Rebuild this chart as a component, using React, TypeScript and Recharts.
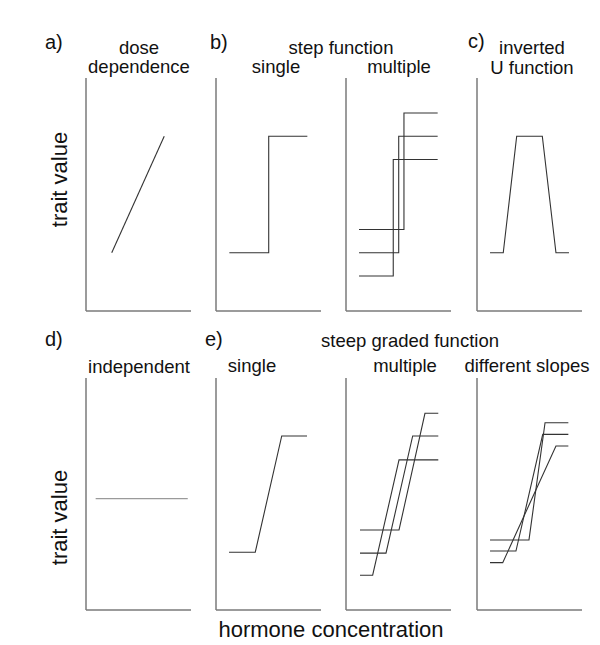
import React from 'react';
import { LineChart, Line, XAxis, YAxis } from 'recharts';

type Pt = { x: number; y: number };

// a) dose dependence
const doseDependence: Pt[] = [{ x: 2.45, y: 2.5 }, { x: 7.45, y: 7.5 }];
// b) step function, single
const stepSingle: Pt[] = [{ x: 1.27, y: 2.5 }, { x: 5.02, y: 2.5 }, { x: 5.02, y: 7.5 }, { x: 8.7, y: 7.5 }];
// b) step function, multiple
const stepMultiLow: Pt[] = [{ x: 1.24, y: 1.5 }, { x: 4.5, y: 1.5 }, { x: 4.5, y: 6.5 }, { x: 8.73, y: 6.5 }];
const stepMultiMid: Pt[] = [{ x: 1.24, y: 2.5 }, { x: 5.02, y: 2.5 }, { x: 5.02, y: 7.5 }, { x: 8.73, y: 7.5 }];
const stepMultiHigh: Pt[] = [{ x: 1.24, y: 3.5 }, { x: 5.52, y: 3.5 }, { x: 5.52, y: 8.5 }, { x: 8.73, y: 8.5 }];
// c) inverted U
const invertedU: Pt[] = [
  { x: 1.24, y: 2.5 }, { x: 2.5, y: 2.5 }, { x: 3.78, y: 7.5 },
  { x: 6.22, y: 7.5 }, { x: 7.52, y: 2.5 }, { x: 8.76, y: 2.5 },
];
// d) independent
const independent: Pt[] = [{ x: 0.92, y: 4.8 }, { x: 9.69, y: 4.8 }];
// e) steep graded, single
const gradedSingle: Pt[] = [{ x: 1.24, y: 2.49 }, { x: 3.74, y: 2.49 }, { x: 6.26, y: 7.5 }, { x: 8.67, y: 7.5 }];
// e) steep graded, multiple
const gradedMultiLow: Pt[] = [{ x: 1.33, y: 1.5 }, { x: 2.54, y: 1.5 }, { x: 5.05, y: 6.47 }, { x: 8.79, y: 6.47 }];
const gradedMultiMid: Pt[] = [{ x: 1.33, y: 2.45 }, { x: 3.81, y: 2.45 }, { x: 6.35, y: 7.5 }, { x: 8.79, y: 7.5 }];
const gradedMultiHigh: Pt[] = [{ x: 1.33, y: 3.45 }, { x: 5.05, y: 3.45 }, { x: 7.52, y: 8.48 }, { x: 8.79, y: 8.48 }];
// e) steep graded, different slopes
const slopeSteep: Pt[] = [{ x: 1.24, y: 3.02 }, { x: 4.95, y: 3.02 }, { x: 6.48, y: 8.07 }, { x: 8.7, y: 8.07 }];
const slopeMedium: Pt[] = [{ x: 1.24, y: 2.54 }, { x: 3.71, y: 2.54 }, { x: 6.26, y: 7.57 }, { x: 8.7, y: 7.57 }];
const slopeShallow: Pt[] = [{ x: 1.24, y: 2.04 }, { x: 2.45, y: 2.04 }, { x: 7.52, y: 7.07 }, { x: 8.7, y: 7.07 }];

const AXIS_COLOR = '#7a7a7a';
const LINE_COLOR = '#333333';
const FONT = '"Liberation Sans", Arial, "DejaVu Sans", sans-serif';
const PAD = 6;
const AX = 2;

type Series = { data: Pt[]; color?: string };

function Panel({ left, top, width, height, series }: { left: number; top: number; width: number; height: number; series: Series[] }) {
  return (
    <div style={{ position: 'absolute', left: left - PAD, top: top - PAD }}>
      <LineChart width={width + 2 * PAD} height={height + 2 * PAD}
        margin={{ top: PAD, right: PAD, bottom: PAD - AX, left: PAD - AX }}>
        <XAxis type="number" dataKey="x" domain={[0, 10]} tick={false} tickLine={false} height={AX}
          axisLine={{ stroke: AXIS_COLOR, strokeWidth: 1.5 }} allowDataOverflow />
        <YAxis type="number" dataKey="y" domain={[0, 10]} tick={false} tickLine={false} width={AX}
          axisLine={{ stroke: AXIS_COLOR, strokeWidth: 1.5 }} allowDataOverflow />
        {series.map((s, i) => (
          <Line key={i} data={s.data} dataKey="y" type="linear" stroke={s.color || LINE_COLOR}
            strokeWidth={1.1} dot={false} activeDot={false} isAnimationActive={false} />
        ))}
      </LineChart>
    </div>
  );
}

const texts = [
  { t: 'a)', x: 45, y: 49, s: 20, a: 'start' },
  { t: 'dose', x: 139, y: 53.5, s: 18.5, a: 'middle' },
  { t: 'dependence', x: 139, y: 73, s: 18.5, a: 'middle' },
  { t: 'b)', x: 210, y: 49, s: 20, a: 'start' },
  { t: 'step function', x: 341, y: 53.5, s: 18.5, a: 'middle' },
  { t: 'single', x: 276, y: 73, s: 18.5, a: 'middle' },
  { t: 'multiple', x: 399, y: 73, s: 18.5, a: 'middle' },
  { t: 'c)', x: 468, y: 48, s: 20, a: 'start' },
  { t: 'inverted', x: 532, y: 53.5, s: 18.5, a: 'middle' },
  { t: 'U function', x: 532, y: 74, s: 18.5, a: 'middle' },
  { t: 'd)', x: 45, y: 346, s: 20, a: 'start' },
  { t: 'independent', x: 139, y: 373, s: 18.5, a: 'middle' },
  { t: 'e)', x: 205, y: 346, s: 20, a: 'start' },
  { t: 'single', x: 252, y: 371.5, s: 18.5, a: 'middle' },
  { t: 'steep graded function', x: 410, y: 347, s: 18.5, a: 'middle' },
  { t: 'multiple', x: 405, y: 371.5, s: 18.5, a: 'middle' },
  { t: 'different slopes', x: 527, y: 371.5, s: 18.5, a: 'middle' },
];

export default function App() {
  const W = 105;
  const H1 = 233;
  const H2 = 232;
  return (
    <div style={{ position: 'absolute', left: 0, top: 0, width: 600, height: 645, background: '#fff', fontFamily: FONT }}>
      <Panel left={86} top={78} width={W} height={H1} series={[{ data: doseDependence }]} />
      <Panel left={216} top={78} width={W} height={H1} series={[{ data: stepSingle }]} />
      <Panel left={346} top={78} width={W} height={H1} series={[{ data: stepMultiLow }, { data: stepMultiMid }, { data: stepMultiHigh }]} />
      <Panel left={477} top={78} width={W} height={H1} series={[{ data: invertedU }]} />
      <Panel left={86} top={378} width={W} height={H2} series={[{ data: independent, color: '#9a9a9a' }]} />
      <Panel left={216} top={378} width={W} height={H2} series={[{ data: gradedSingle }]} />
      <Panel left={346} top={378} width={W} height={H2} series={[{ data: gradedMultiLow }, { data: gradedMultiMid }, { data: gradedMultiHigh }]} />
      <Panel left={477} top={378} width={W} height={H2} series={[{ data: slopeSteep }, { data: slopeMedium }, { data: slopeShallow }]} />
      <svg width={600} height={645} style={{ position: 'absolute', left: 0, top: 0, pointerEvents: 'none' }}>
        {texts.map((d, i) => (
          <text key={i} x={d.x} y={d.y} fontSize={d.s} textAnchor={d.a as any} fill="#111" fontFamily={FONT}>{d.t}</text>
        ))}
        <text x={67} y={179.5} fontSize={22} textAnchor="middle" fill="#111" fontFamily={FONT} transform="rotate(-90 67 179.5)">trait value</text>
        <text x={67} y={517.5} fontSize={22} textAnchor="middle" fill="#111" fontFamily={FONT} transform="rotate(-90 67 517.5)">trait value</text>
        <text x={331} y={637} fontSize={22} textAnchor="middle" fill="#111" fontFamily={FONT}>hormone concentration</text>
      </svg>
    </div>
  );
}
